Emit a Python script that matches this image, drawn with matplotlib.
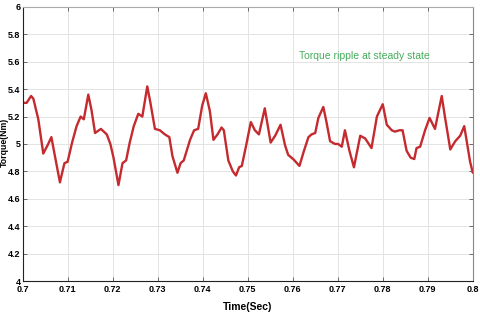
import matplotlib
matplotlib.use("Agg")
import matplotlib.pyplot as plt

# torque trace (time in s, torque in Nm)
time_s = [0.7000, 0.7009, 0.7019, 0.7024, 0.7035, 0.7046, 0.7057, 0.7064,
          0.7072, 0.7083, 0.7093, 0.7100, 0.7110, 0.7120, 0.7129, 0.7136,
          0.7146, 0.7153, 0.7161, 0.7174, 0.7187, 0.7195, 0.7202, 0.7213,
          0.7222, 0.7230, 0.7238, 0.7247, 0.7257, 0.7266, 0.7277, 0.7284,
          0.7294, 0.7305, 0.7316, 0.7326, 0.7333, 0.7344, 0.7351, 0.7358,
          0.7372, 0.7381, 0.7390, 0.7399, 0.7407, 0.7416, 0.7424, 0.7433,
          0.7442, 0.7447, 0.7457, 0.7467, 0.7474, 0.7481, 0.7487, 0.7496,
          0.7507, 0.7516, 0.7525, 0.7538, 0.7551, 0.7561, 0.7573, 0.7583,
          0.7590, 0.7601, 0.7615, 0.7625, 0.7635, 0.7642, 0.7650, 0.7657,
          0.7668, 0.7675, 0.7683, 0.7694, 0.7701, 0.7709, 0.7716, 0.7726,
          0.7736, 0.7750, 0.7761, 0.7775, 0.7787, 0.7800, 0.7809, 0.7820,
          0.7827, 0.7837, 0.7844, 0.7853, 0.7862, 0.7870, 0.7875, 0.7883,
          0.7894, 0.7904, 0.7916, 0.7931, 0.7938, 0.7950, 0.7961, 0.7972,
          0.7981, 0.7988, 0.7994, 0.8000]
torque = [5.30, 5.30, 5.35, 5.33, 5.18, 4.93, 5.00, 5.05,
          4.91, 4.72, 4.86, 4.87, 5.01, 5.13, 5.20, 5.18,
          5.36, 5.25, 5.08, 5.11, 5.07, 5.00, 4.90, 4.70,
          4.86, 4.88, 5.01, 5.13, 5.22, 5.20, 5.42, 5.30,
          5.11, 5.10, 5.07, 5.05, 4.91, 4.79, 4.86, 4.88,
          5.03, 5.10, 5.11, 5.28, 5.37, 5.24, 5.03, 5.07,
          5.12, 5.10, 4.88, 4.80, 4.77, 4.83, 4.84, 4.98,
          5.16, 5.10, 5.07, 5.26, 5.01, 5.06, 5.14, 4.99,
          4.92, 4.89, 4.84, 4.95, 5.05, 5.07, 5.08, 5.19,
          5.27, 5.16, 5.02, 5.00, 5.00, 4.98, 5.10, 4.95,
          4.83, 5.06, 5.04, 4.97, 5.20, 5.29, 5.14, 5.10,
          5.09, 5.10, 5.10, 4.95, 4.90, 4.89, 4.97, 4.98,
          5.10, 5.19, 5.11, 5.35, 5.20, 4.96, 5.02, 5.06,
          5.13, 4.99, 4.87, 4.79]

xticks = [0.70, 0.71, 0.72, 0.73, 0.74, 0.75, 0.76, 0.77, 0.78, 0.79, 0.80]
xtick_labels = ["0.7", "0.71", "0.72", "0.73", "0.74", "0.75", "0.76",
                "0.77", "0.78", "0.79", "0.8"]
yticks = [4.0, 4.2, 4.4, 4.6, 4.8, 5.0, 5.2, 5.4, 5.6, 5.8, 6.0]
ytick_labels = ["4", "4.2", "4.4", "4.6", "4.8", "5", "5.2", "5.4", "5.6", "5.8", "6"]

plt.rcParams['font.family'] = ['Liberation Sans', 'DejaVu Sans']

fig = plt.figure(figsize=(4.8, 3.14), dpi=100)
ax = fig.add_axes([0.047, 0.105, 0.938, 0.873])

ax.plot(time_s, torque, color='#c42a2e', linewidth=1.7,
        solid_joinstyle='round', solid_capstyle='round')

ax.set_xlim(0.7, 0.8)
ax.set_ylim(4, 6)
ax.set_xticks(xticks)
ax.set_xticklabels(xtick_labels)
ax.set_yticks(yticks)
ax.set_yticklabels(ytick_labels)
ax.tick_params(direction='in', length=3, width=0.6, labelsize=6.5, pad=3,
               top=True, right=True, color='#555555')
ax.tick_params(axis='y', pad=1.5)
for lab in ax.get_xticklabels() + ax.get_yticklabels():
    lab.set_fontweight('bold')

ax.grid(True, color='#e3e3e3', linewidth=0.7)
ax.set_axisbelow(True)
ax.spines['left'].set_color('#222222')
ax.spines['bottom'].set_color('#222222')
ax.spines['top'].set_color('#aaaaaa')
ax.spines['right'].set_color('#888888')
for s in ax.spines.values():
    s.set_linewidth(0.8)

ax.set_xlabel("Time(Sec)", fontsize=7.5, fontweight='bold')
ax.xaxis.set_label_coords(0.5, -0.075)
ax.set_ylabel("Torque(Nm)", fontsize=6.3, fontweight='bold')
ax.yaxis.set_label_coords(-0.031, 0.505)

ax.text(0.7614, 5.64, "Torque ripple at steady state", color='#45ad5c',
        fontsize=7.5, va='center', ha='left')

fig.savefig("out.png", dpi=100)
